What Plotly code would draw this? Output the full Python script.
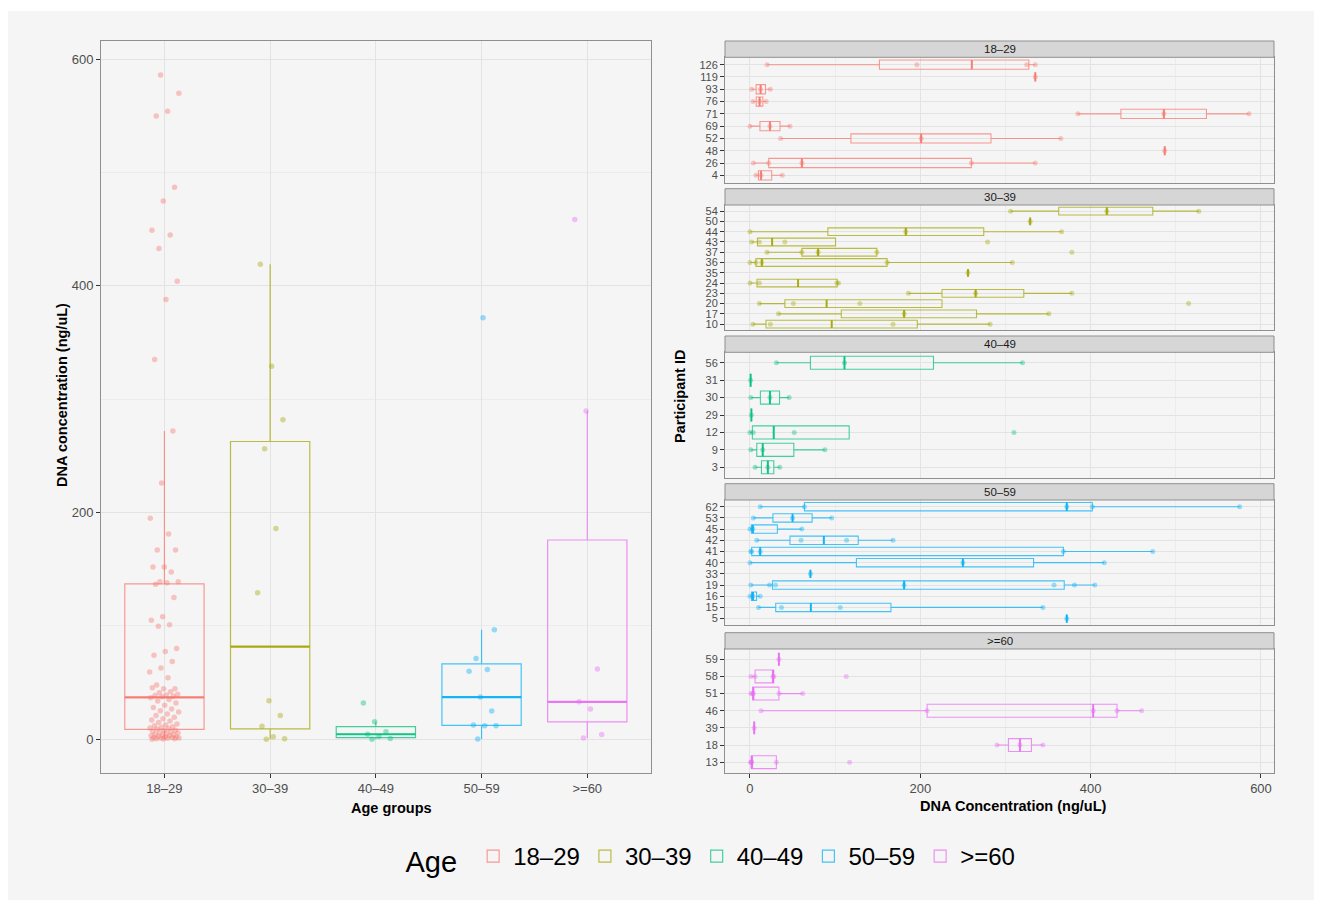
import numpy as np
import plotly.graph_objects as go

# ---------------- data ----------------
age_groups = ["18–29", "30–39", "40–49", "50–59", ">=60"]
colors = ["#F8766D", "#A3A500", "#00BF7D", "#00B0F6", "#E76BF3"]

# left panel: DNA concentration per sample by age group (ng/uL)
conc_18_29 = [586, 570, 554, 550, 487, 475, 449, 445, 433, 404, 388, 335, 272, 226, 195, 181,
              167, 167, 152, 152, 147.5, 139, 139, 138,
              136.7, 125, 108, 105, 101, 99.7, 80, 77.4, 74, 68.6, 62.8, 59.3, 54.3, 47.8,
              44.6, 44.6, 45.5, 42, 41, 39.6, 39, 38.5, 38, 37.5,
              36.5, 35, 33.7, 32, 30, 28, 26.7, 25.2, 24, 22.3, 21, 19.4, 18, 17, 16, 14.7,
              13.5, 12.5, 12, 11, 10.5, 10, 9.5, 9,
              8, 7.5, 7, 6.5, 6, 5.5, 5, 4.5, 4, 3.5, 3, 3, 2.5, 2, 2, 1.5, 1.5, 1, 1, 0.8,
              0.5, 0.5, 0.3, 0]
conc_30_39 = [0, 0.5, 2.3, 11.4, 21, 34, 129.3, 186, 256.3, 282, 329, 419]
conc_40_49 = [0, 0.6, 2.4, 4.4, 6.7, 15.5, 32]
conc_50_59 = [0.3, 12, 12, 12.5, 25, 37.2, 60, 61.6, 71.3, 96.5, 372]
conc_60_plus = [1.1, 4.1, 26.7, 33, 61.9, 289.7, 458.6]

# right panel: repeated measurements per participant, faceted by age group
ids_18_29 = [4, 26, 48, 52, 69, 71, 76, 93, 119, 126]
vals_18_29 = [[7, 13, 38], [4, 22, 61, 260, 335], [487], [36, 201, 365], [0, 23.5, 47],
              [385, 486, 586], [3.4, 11.3, 19], [2, 12.5, 24], [335], [20, 196, 325, 335]]
ids_30_39 = [10, 17, 20, 23, 24, 35, 36, 37, 43, 44, 50, 54]
vals_30_39 = [[3.4, 24, 168, 282], [33.5, 181, 351], [11, 51, 129, 515], [186, 265, 378],
              [0, 11, 102, 104], [256], [0, 7, 14, 161, 308], [20, 61, 80, 149, 378],
              [2, 11, 41, 279], [0, 183, 366], [329], [306, 419, 527]]
ids_40_49 = [3, 9, 12, 29, 30, 31, 56]
vals_40_49 = [[6, 21, 35], [1, 15, 88], [0, 3.8, 52, 310], [1.7], [1, 23.5, 46], [0.8],
              [31, 111, 320]]
ids_50_59 = [5, 15, 16, 19, 33, 40, 41, 42, 45, 53, 62]
vals_50_59 = [[372], [10, 37, 106, 344], [0, 3.5, 12], [1, 23, 30, 181, 357, 381, 405], [71],
              [0, 250, 416], [1, 2, 12, 368, 473], [8, 60, 113.5, 168], [0, 3.4, 61],
              [4, 50, 96], [12, 64, 372, 402, 575]]
ids_60_plus = [13, 18, 39, 46, 51, 58, 59]
vals_60_plus = [[0.5, 1.8, 2, 31, 117], [290, 317, 344], [5], [13, 208, 403, 431, 460],
                [1, 3, 4, 34, 62], [1, 6, 27, 28, 113], [34]]

left_values = [conc_18_29, conc_30_39, conc_40_49, conc_50_59, conc_60_plus]
facet_ids = [ids_18_29, ids_30_39, ids_40_49, ids_50_59, ids_60_plus]
facet_vals = [vals_18_29, vals_30_39, vals_40_49, vals_50_59, vals_60_plus]

# ---------------- helpers ----------------
OFF = 8                      # page body margin of the html output
W, H = 1322 - OFF, 900 - OFF


def fx(px):
    return (px - OFF) / W


def fy(py):
    return 1 - (py - OFF) / H


def rgba(hexc, a):
    h = hexc.lstrip("#")
    r, g, b = int(h[0:2], 16), int(h[2:4], 16), int(h[4:6], 16)
    return f"rgba({r},{g},{b},{a})"


def box_stats(v):
    v = np.asarray(v, dtype=float)
    q1, med, q3 = np.percentile(v, [25, 50, 75])
    iqr = q3 - q1
    lo = v[v >= q1 - 1.5 * iqr].min()
    hi = v[v <= q3 + 1.5 * iqr].max()
    return q1, med, q3, lo, hi


def jitter(n, width):
    k = np.arange(n)
    return (((k * 0.6180339887 + 0.37) % 1.0) * 2 - 1) * width


FONT = "Liberation Sans, Arial, Helvetica, sans-serif"
BG = "#F5F5F5"
GRID = "#E3E3E3"
MINOR = "#ECECEC"
BORDER = "#8F8F8F"
TICKC = "#4D4D4D"
BOXW = 0.75
LINE_A = 0.72
MED_A = 0.85

fig = go.Figure()

# ---------------- left panel ----------------
for i, (grp, vals, col) in enumerate(zip(age_groups, left_values, colors)):
    pos = i + 1
    q1, med, q3, lo, hi = box_stats(vals)
    fig.add_trace(go.Box(
        x=[pos], q1=[q1], median=[med], q3=[q3], lowerfence=[lo], upperfence=[hi],
        orientation="v", width=BOXW, whiskerwidth=0, name=grp, legendgroup=grp,
        showlegend=True, line=dict(color=rgba(col, LINE_A), width=1.2),
        fillcolor="rgba(0,0,0,0)", boxpoints=False, xaxis="x", yaxis="y"))
    fig.add_trace(go.Scatter(
        x=[pos - BOXW / 2, pos + BOXW / 2], y=[med, med], mode="lines",
        line=dict(color=rgba(col, MED_A), width=2.2), showlegend=False, hoverinfo="skip",
        xaxis="x", yaxis="y"))
    fig.add_trace(go.Scatter(
        x=pos + jitter(len(vals), 0.14), y=vals, mode="markers",
        marker=dict(color=rgba(col, 0.4), size=5.5, line=dict(width=0)),
        showlegend=False, hoverinfo="skip", xaxis="x", yaxis="y"))

# ---------------- right facets ----------------
for f, (ids, vals_list, col, grp) in enumerate(zip(facet_ids, facet_vals, colors, age_groups)):
    ax = f + 2
    xa, ya = f"x{ax}", f"y{ax}"
    pos = list(range(1, len(ids) + 1))
    stats = [box_stats(v) for v in vals_list]
    fig.add_trace(go.Box(
        y=pos, q1=[s[0] for s in stats], median=[s[1] for s in stats],
        q3=[s[2] for s in stats], lowerfence=[s[3] for s in stats],
        upperfence=[s[4] for s in stats], orientation="h", width=BOXW, whiskerwidth=0,
        name=grp, legendgroup=grp, showlegend=False,
        line=dict(color=rgba(col, LINE_A), width=1.1), fillcolor="rgba(0,0,0,0)",
        boxpoints=False, xaxis=xa, yaxis=ya))
    mx, my = [], []
    for p, s in zip(pos, stats):
        mx += [s[1], s[1], None]
        my += [p - BOXW / 2, p + BOXW / 2, None]
    fig.add_trace(go.Scatter(
        x=mx, y=my, mode="lines", line=dict(color=rgba(col, MED_A), width=2),
        showlegend=False, hoverinfo="skip", xaxis=xa, yaxis=ya))
    px_, py_ = [], []
    for p, v in zip(pos, vals_list):
        px_ += list(v)
        py_ += [p] * len(v)
    fig.add_trace(go.Scatter(
        x=px_, y=py_, mode="markers",
        marker=dict(color=rgba(col, 0.38), size=5, line=dict(width=0)),
        showlegend=False, hoverinfo="skip", xaxis=xa, yaxis=ya))

# ---------------- layout ----------------
axis_common = dict(showline=True, mirror=True, linecolor=BORDER, linewidth=1,
                   ticks="outside", ticklen=4, tickcolor="#333333", zeroline=False,
                   showgrid=True, gridcolor=GRID, gridwidth=1, automargin=False,
                   tickfont=dict(family=FONT, size=13, color=TICKC))

left_x0, left_x1 = 101, 650.7
left_y0, left_y1 = 40.7, 772.5

layout = dict(
    width=W, height=H, margin=dict(l=0, r=0, t=0, b=0),
    paper_bgcolor="white", plot_bgcolor=BG, hovermode=False,
    boxmode="overlay",
    font=dict(family=FONT, color="#1A1A1A"),
)

layout["xaxis"] = dict(axis_common, domain=[fx(left_x0), fx(left_x1)], range=[0.4, 5.6],
                       tickvals=[1, 2, 3, 4, 5], ticktext=age_groups, anchor="y")
layout["yaxis"] = dict(axis_common, domain=[fy(left_y1), fy(left_y0)], range=[-29.35, 616.35],
                       tickvals=[0, 200, 400, 600], anchor="x",
                       minor=dict(tickvals=[100, 300, 500], showgrid=True, gridcolor=MINOR,
                                  gridwidth=0.6, ticks=""))

rx0, rx1 = 725, 1274
panel_tops = [57.3, 205, 352.3, 500, 649]
panel_bots = [182.7, 330.3, 477.7, 625.3, 772.5]
strip_h = 16.3

shapes = [dict(type="rect", xref="paper", yref="paper", x0=fx(8), x1=1.0, y0=0, y1=fy(11),
               fillcolor=BG, line=dict(width=0), layer="below")]
annotations = []

for f in range(5):
    ax = f + 2
    n = len(facet_ids[f])
    last = f == 4
    layout[f"xaxis{ax}"] = dict(
        axis_common, domain=[fx(rx0), fx(rx1)], range=[-29.3, 615.3],
        tickvals=[0, 200, 400, 600], showticklabels=last, ticks="outside" if last else "",
        anchor=f"y{ax}",
        minor=dict(tickvals=[100, 300, 500], showgrid=True, gridcolor=MINOR, gridwidth=0.6,
                   ticks=""))
    layout[f"yaxis{ax}"] = dict(
        axis_common, domain=[fy(panel_bots[f]), fy(panel_tops[f])], range=[0.4, n + 0.6],
        tickvals=list(range(1, n + 1)), ticktext=[str(i) for i in facet_ids[f]],
        anchor=f"x{ax}", tickfont=dict(family=FONT, size=11, color=TICKC))
    # strip
    st1 = panel_tops[f]
    st0 = st1 - strip_h
    shapes.append(dict(type="rect", xref="paper", yref="paper", x0=fx(rx0), x1=fx(rx1),
                       y0=fy(st1), y1=fy(st0), fillcolor="#D6D6D6",
                       line=dict(color=BORDER, width=1), layer="above"))
    annotations.append(dict(text=age_groups[f], xref="paper", yref="paper",
                            x=fx((rx0 + rx1) / 2), y=fy((st0 + st1) / 2),
                            showarrow=False, xanchor="center", yanchor="middle",
                            font=dict(family=FONT, size=11.5, color="#1A1A1A")))

title_font = dict(family=FONT, size=14.5, color="#000000")
annotations += [
    dict(text="<b>DNA concentration (ng/uL)</b>", xref="paper", yref="paper",
         x=fx(62), y=fy(395), textangle=-90, showarrow=False, xanchor="center",
         yanchor="middle", font=title_font),
    dict(text="<b>Age groups</b>", xref="paper", yref="paper", x=fx(391), y=fy(808),
         showarrow=False, xanchor="center", yanchor="middle", font=title_font),
    dict(text="<b>Participant ID</b>", xref="paper", yref="paper", x=fx(680), y=fy(397),
         textangle=-90, showarrow=False, xanchor="center", yanchor="middle", font=title_font),
    dict(text="<b>DNA Concentration (ng/uL)</b>", xref="paper", yref="paper", x=fx(1013),
         y=fy(806), showarrow=False, xanchor="center", yanchor="middle", font=title_font),
]

layout["shapes"] = shapes
layout["annotations"] = annotations
layout["legend"] = dict(
    orientation="h", x=fx(712), xanchor="center", y=fy(858), yanchor="middle",
    bgcolor="rgba(0,0,0,0)", font=dict(family=FONT, size=24, color="#000000"),
    title=dict(text="Age ", font=dict(family=FONT, size=29, color="#000000"), side="left"),
    itemwidth=30, tracegroupgap=0)

fig.update_layout(**layout)
fig.write_html("out.html")
